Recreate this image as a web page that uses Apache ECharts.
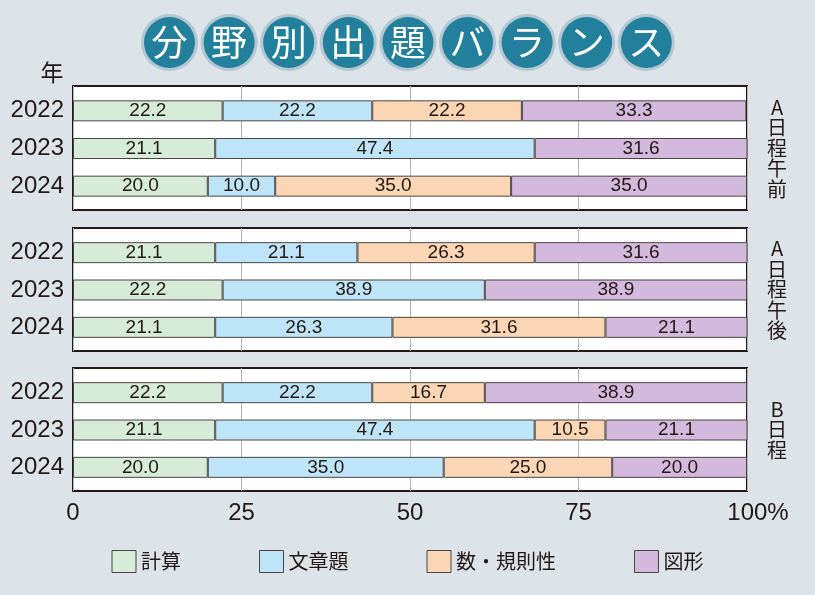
<!DOCTYPE html>
<html><head><meta charset="utf-8">
<script src="https://cdn.jsdelivr.net/npm/echarts@6/dist/echarts.min.js"></script>
<style>html,body{margin:0;padding:0;background:#dce3e9}#c{width:815px;height:595px}</style>
</head><body><div id="c"></div>
<script>
const titleChars = ['分','野','別','出','題','バ','ラ','ン','ス'];
const years = ['2022','2023','2024'];
const categories = ['計算','文章題','数・規則性','図形'];
const panelLabels = ['A\n日\n程\n午\n前','A\n日\n程\n午\n後','B\n日\n程'];
const xTicks = [0,25,50,75,100];
// values per category (計算, 文章題, 数・規則性, 図形), each listing 2022, 2023, 2024
const aAmValues = [[22.2,21.1,20.0],[22.2,47.4,10.0],[22.2,null,35.0],[33.3,31.6,35.0]];
const aPmValues = [[21.1,22.2,21.1],[21.1,38.9,26.3],[26.3,null,31.6],[31.6,38.9,21.1]];
const bValues   = [[22.2,21.1,20.0],[22.2,47.4,35.0],[16.7,10.5,25.0],[38.9,21.1,20.0]];
const panels = [aAmValues, aPmValues, bValues];

const colors = ['#d6ebd8','#bee4f7','#fbd6b5','#d3b9db'];
const ink = '#231815';
const latin = '"Liberation Sans", Arial, sans-serif';
const jp = '"Noto Sans CJK JP", sans-serif';
const gridBoxes = [[86,124],[228,123],[368,123]];

const grids = [], xAxes = [], yAxes = [], series = [];
gridBoxes.forEach((g, p) => {
  // panel box (frame, white background, 25/50/75 lines, % axis labels)
  grids.push({left:73, width:674, top:g[0], height:g[1], show:true, backgroundColor:'#fff', borderColor:ink, borderWidth:2});
  xAxes.push({gridIndex:2*p, type:'value', min:0, max:100, interval:25,
    axisLine:{show:false}, axisTick:{show:false},
    splitLine:{show:true, lineStyle:{color:'#b5b5b5', width:1}},
    axisLabel:{show:p===2, margin:10, fontSize:24, color:ink, fontFamily:latin,
      formatter: v => xTicks.includes(v) ? (v===100 ? '{h|100%}' : String(v)) : '',
      rich:{h:{fontSize:24, color:ink, fontFamily:latin, padding:[0,0,0,22]}}}});
  yAxes.push({gridIndex:2*p, type:'category', data:years, show:false});
  // bars
  grids.push({left:73, width:674, top:g[0]+6, height:g[1]-11});
  xAxes.push({gridIndex:2*p+1, type:'value', min:0, max:100, show:false, splitLine:{show:false}});
  yAxes.push({gridIndex:2*p+1, type:'category', data:years, inverse:true,
    axisLine:{show:false}, axisTick:{show:false},
    axisLabel:{margin:9, fontSize:24, color:ink, fontFamily:latin}});
  panels[p].forEach((vals, c) => {
    series.push({type:'bar', name:categories[c], xAxisIndex:2*p+1, yAxisIndex:2*p+1, stack:'s'+p,
      data:vals, barWidth:21,
      itemStyle:{color:colors[c], borderColor:'#4a4545', borderWidth:1},
      label:{show:true, position:'inside', color:ink, fontSize:19, fontFamily:latin,
        formatter: d => d.value==null ? '' : Number(d.value).toFixed(1)},
      emphasis:{disabled:true}});
  });
});

const graphic = [];
titleChars.forEach((ch, i) => {
  const cx = 169.5 + i*59.6, cy = 42.5;
  graphic.push({type:'circle', shape:{cx, cy, r:28.5}, style:{fill:'#b3c7d2'}, silent:true});
  graphic.push({type:'circle', shape:{cx, cy, r:25.5}, style:{fill:'#22809c'}, silent:true});
  graphic.push({type:'text', x:cx, y:cy, style:{text:ch, fill:'#fff', font:'36px '+jp, align:'center', verticalAlign:'middle'}, silent:true});
});
graphic.push({type:'text', x:52, y:72, style:{text:'年', fill:ink, font:'23px '+jp, align:'center', verticalAlign:'middle'}});
gridBoxes.forEach((g, p) => {
  graphic.push({type:'text', x:777, y:g[0]+g[1]/2, style:{text:panelLabels[p], fill:ink, font:'20px '+jp, lineHeight:20.5, align:'center', verticalAlign:'middle'}});
});

const chart = echarts.init(document.getElementById('c'), null, {renderer:'canvas'});
chart.setOption({
  backgroundColor:'#dce3e9',
  animation:false,
  grid:grids, xAxis:xAxes, yAxis:yAxes, series,
  legend:{data:categories, top:545, left:'center', itemWidth:24, itemHeight:22, itemGap:78,
    icon:'rect', selectedMode:false,
    itemStyle:{borderColor:'#4a4545', borderWidth:1},
    textStyle:{fontSize:20, color:ink, fontFamily:jp, padding:[0,0,0,0]}},
  graphic
});
</script></body></html>
